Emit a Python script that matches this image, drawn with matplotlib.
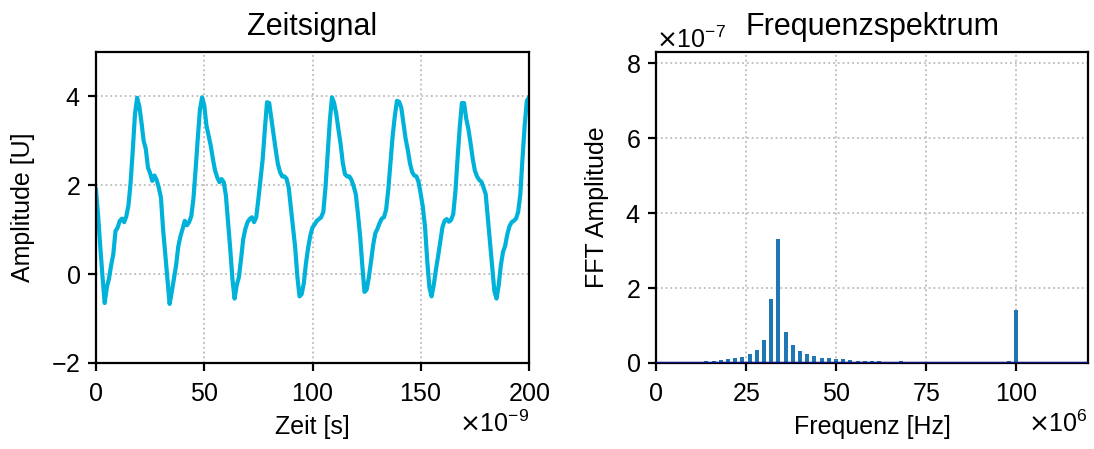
import numpy as np
import matplotlib
matplotlib.use("Agg")
import matplotlib.pyplot as plt

plt.rcParams['font.family'] = ['Liberation Sans', 'DejaVu Sans']
plt.rcParams['axes.formatter.use_mathtext'] = True

# ---- time signal, 1 ns sampling ----
time_ns = list(range(0, 201))
amplitude = [
    1.9, 1.3, 0.6, -0.05, -0.65, -0.3, -0.1, 0.2, 0.45, 0.97,
    1.05, 1.2, 1.25, 1.17, 1.3, 1.55, 2.07, 2.8, 3.6, 3.97,
    3.78, 3.42, 3.0, 2.82, 2.4, 2.27, 2.1, 2.22, 2.12, 1.95,
    1.72, 1.0, 0.45, -0.12, -0.67, -0.4, -0.1, 0.2, 0.62, 0.85,
    1.02, 1.2, 1.1, 1.17, 1.3, 1.7, 2.35, 3.05, 3.7, 3.98,
    3.8, 3.35, 3.12, 2.89, 2.59, 2.33, 2.18, 2.07, 2.14, 2.07,
    1.77, 1.17, 0.57, -0.1, -0.55, -0.25, -0.07, 0.34, 0.79, 1.02,
    1.17, 1.24, 1.28, 1.17, 1.28, 1.69, 2.14, 2.59, 3.27, 3.87,
    3.85, 3.5, 3.15, 2.8, 2.48, 2.3, 2.2, 2.2, 2.15, 1.95,
    1.5, 1.05, 0.6, -0.05, -0.5, -0.45, -0.2, 0.25, 0.6, 0.87,
    1.05, 1.12, 1.2, 1.24, 1.28, 1.4, 1.95, 2.7, 3.45, 3.98,
    3.85, 3.6, 3.25, 2.92, 2.5, 2.25, 2.2, 2.2, 2.12, 1.98,
    1.8, 1.35, 0.85, 0.2, -0.4, -0.35, -0.08, 0.27, 0.65, 0.92,
    1.02, 1.15, 1.25, 1.28, 1.45, 1.9, 2.5, 3.1, 3.55, 3.9,
    3.88, 3.75, 3.4, 3.05, 2.8, 2.5, 2.3, 2.22, 2.2, 2.07,
    1.8, 1.5, 1.05, 0.3, -0.3, -0.5, -0.25, 0.1, 0.4, 0.72,
    1.05, 1.2, 1.24, 1.18, 1.22, 1.35, 1.85, 2.6, 3.3, 3.85,
    3.85, 3.5, 3.27, 2.95, 2.6, 2.33, 2.2, 2.12, 2.08, 1.95,
    1.8, 1.25, 0.7, 0.15, -0.38, -0.55, -0.25, 0.2, 0.5, 0.64,
    0.9, 1.08, 1.17, 1.2, 1.25, 1.4, 1.8, 2.6, 3.35, 3.9,
    3.98,
]

# ---- spectrum, MHz and units of 1e-7 ----
freq_mhz = [0, 2, 4, 6, 8, 10, 12, 14, 16, 18,
            20, 22, 24, 26, 28, 30, 32, 34, 36, 38,
            40, 42, 44, 46, 48, 50, 52, 54, 56, 58,
            60, 62, 64, 66, 68, 70, 72, 74, 76, 78,
            80, 82, 84, 86, 88, 90, 92, 94, 96, 98,
            100, 102, 104, 106, 108, 110, 112, 114, 116, 118, 120]
fft_amp_e7 = [0.01, 0.01, 0.01, 0.01, 0.02, 0.02, 0.04, 0.05, 0.06, 0.07,
              0.10, 0.13, 0.17, 0.24, 0.36, 0.62, 1.70, 3.30, 0.83, 0.48,
              0.32, 0.24, 0.18, 0.145, 0.135, 0.11, 0.10, 0.07, 0.065, 0.06,
              0.055, 0.045, 0.04, 0.02, 0.045, 0.035, 0.03, 0.035, 0.035, 0.03,
              0.02, 0.015, 0.015, 0.01, 0.015, 0.01, 0.01, 0.01, 0.015, 0.06,
              1.42, 0.02, 0.02, 0.005, 0.005, 0.005, 0.005, 0.005, 0.005, 0.005, 0.005]

t = np.array(time_ns) * 1e-9
y = np.array(amplitude)
f = np.array(freq_mhz) * 1e6
A = np.array(fft_amp_e7) * 1e-7

fig = plt.figure(figsize=(10.94, 4.49), dpi=100)
ax1 = fig.add_axes([96/1094, 1-363/449, (529-96)/1094, (363-52)/449])
ax2 = fig.add_axes([656/1094, 1-363/449, (1088-656)/1094, (363-52)/449])

FS = 18
TFS = 22
for ax in (ax1, ax2):
    for s in ax.spines.values():
        s.set_linewidth(1.6)
    ax.tick_params(labelsize=FS, width=1.6, length=6)
    ax.tick_params(axis='x', pad=8)
    ax.tick_params(axis='y', pad=5)
    ax.grid(True, linestyle=':', color='#bbbbbb', linewidth=1.3)
    ax.set_axisbelow(True)

ax1.plot(t, y, color='#00b2d9', linewidth=3.0)
ax1.set_xlim(0, 200e-9)
ax1.set_ylim(-2, 5)
ax1.set_yticks([-2, 0, 2, 4])
ax1.set_xticks([0, 50e-9, 100e-9, 150e-9, 200e-9])
ax1.ticklabel_format(axis='x', style='sci', scilimits=(-9, -9))
ax1.set_title('Zeitsignal', fontsize=TFS, pad=12)
ax1.set_xlabel('Zeit [s]', fontsize=FS, labelpad=6)
ax1.set_ylabel('Amplitude [U]', fontsize=FS, labelpad=12)
ax1.xaxis.get_offset_text().set_fontsize(FS)

ax2.bar(f, A, width=1.1e6, color='#1f77b4')
ax2.axhline(0, color='#10108a', linewidth=2.4, zorder=3)
ax2.set_xlim(0, 120e6)
ax2.set_ylim(0, 8.3e-7)
ax2.set_xticks([0, 25e6, 50e6, 75e6, 100e6])
ax2.set_yticks([0, 2e-7, 4e-7, 6e-7, 8e-7])
ax2.ticklabel_format(axis='x', style='sci', scilimits=(6, 6))
ax2.ticklabel_format(axis='y', style='sci', scilimits=(-7, -7))
ax2.set_title('Frequenzspektrum', fontsize=TFS, pad=12)
ax2.set_xlabel('Frequenz [Hz]', fontsize=FS, labelpad=6)
ax2.set_ylabel('FFT Amplitude', fontsize=FS, labelpad=12)
ax2.xaxis.get_offset_text().set_fontsize(FS)
ax2.yaxis.get_offset_text().set_fontsize(FS)

fig.savefig('out.png', dpi=100)
